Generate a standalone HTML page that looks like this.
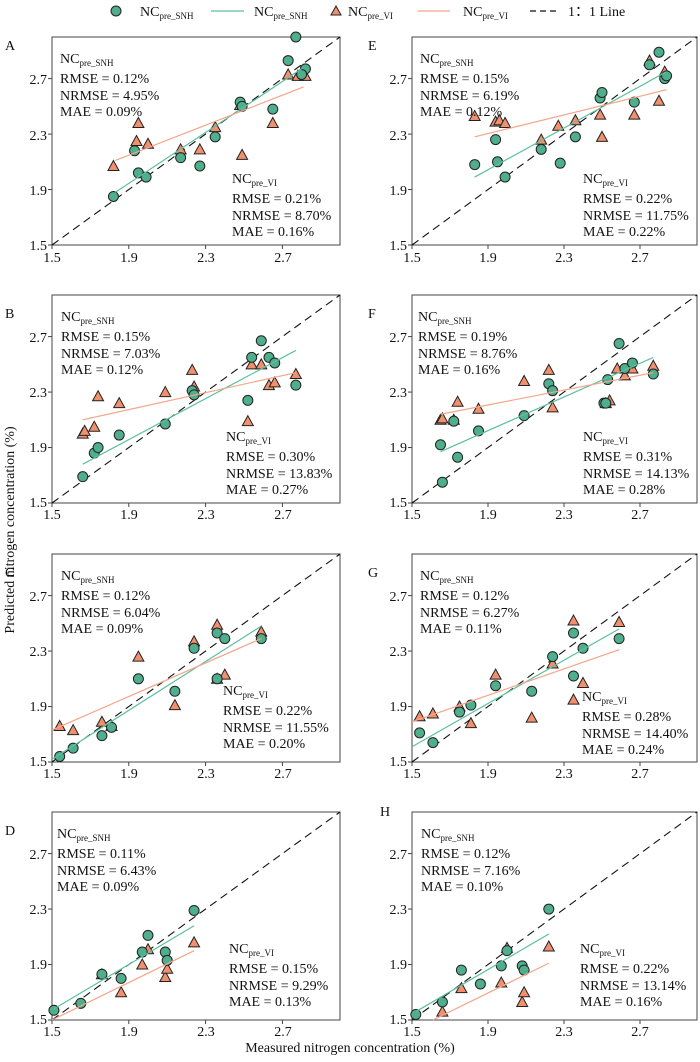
<!DOCTYPE html>
<html><head><meta charset="utf-8"><style>
html,body{margin:0;padding:0;background:#fff}
svg{display:block;font-family:"Liberation Serif",serif}
text{fill:#111}
</style></head><body>
<svg id="s" width="700" height="1062" xmlns="http://www.w3.org/2000/svg">
<!-- legend -->
<circle cx="116" cy="11" r="5" fill="#4fae8c" stroke="#222" stroke-width="1"/>
<text x="140" y="16" font-size="14">NC<tspan font-size="9" dy="3">pre_SNH</tspan></text>
<line x1="211" y1="11" x2="244" y2="11" stroke="#5cc0a0" stroke-width="1.2"/>
<text x="254" y="16" font-size="14">NC<tspan font-size="9" dy="3">pre_SNH</tspan></text>
<polygon points="336,6 341,15 331,15" fill="#f0906e" stroke="#222" stroke-width="1"/>
<text x="348" y="16" font-size="14">NC<tspan font-size="9" dy="3">pre_VI</tspan></text>
<line x1="418" y1="11" x2="450" y2="11" stroke="#f4a58a" stroke-width="1.2"/>
<text x="463" y="16" font-size="14">NC<tspan font-size="9" dy="3">pre_VI</tspan></text>
<line x1="530" y1="11" x2="558" y2="11" stroke="#111" stroke-width="1.2" stroke-dasharray="6,4"/>
<text x="568" y="16" font-size="14">1：1 Line</text>

<text x="350" y="1052" font-size="14" text-anchor="middle">Measured nitrogen concentration (%)</text>
<text transform="translate(14,530) rotate(-90)" font-size="14" text-anchor="middle">Predicted nitrogen concentration (%)</text>

<g id="panels"></g>

<!-- panel letters -->
<text x="5" y="50" font-size="14">A</text>
<text x="5" y="318" font-size="14">B</text>
<text x="5" y="577" font-size="14">C</text>
<text x="5" y="835" font-size="14">D</text>
<text x="368" y="50" font-size="14">E</text>
<text x="368" y="318" font-size="14">F</text>
<text x="368" y="577" font-size="14">G</text>
<text x="380" y="816" font-size="14">H</text>

<!-- stats text -->
<g font-size="14">
<!-- A -->
<text x="60" y="63">NC<tspan font-size="9" dy="3">pre_SNH</tspan></text>
<text x="60" y="83">RMSE = 0.12%</text><text x="60" y="100">NRMSE = 4.95%</text><text x="60" y="116">MAE = 0.09%</text>
<text x="232" y="183">NC<tspan font-size="9" dy="3">pre_VI</tspan></text>
<text x="232" y="203">RMSE = 0.21%</text><text x="232" y="220">NRMSE = 8.70%</text><text x="232" y="236">MAE = 0.16%</text>
<!-- B -->
<text x="61" y="321">NC<tspan font-size="9" dy="3">pre_SNH</tspan></text>
<text x="61" y="341">RMSE = 0.15%</text><text x="61" y="358">NRMSE = 7.03%</text><text x="61" y="374">MAE = 0.12%</text>
<text x="226" y="441">NC<tspan font-size="9" dy="3">pre_VI</tspan></text>
<text x="226" y="461">RMSE = 0.30%</text><text x="226" y="478">NRMSE = 13.83%</text><text x="226" y="494">MAE = 0.27%</text>
<!-- C -->
<text x="61" y="580">NC<tspan font-size="9" dy="3">pre_SNH</tspan></text>
<text x="61" y="600">RMSE = 0.12%</text><text x="61" y="617">NRMSE = 6.04%</text><text x="61" y="633">MAE = 0.09%</text>
<text x="223" y="695">NC<tspan font-size="9" dy="3">pre_VI</tspan></text>
<text x="223" y="715">RMSE = 0.22%</text><text x="223" y="732">NRMSE = 11.55%</text><text x="223" y="748">MAE = 0.20%</text>
<!-- D -->
<text x="57" y="838">NC<tspan font-size="9" dy="3">pre_SNH</tspan></text>
<text x="57" y="858">RMSE = 0.11%</text><text x="57" y="875">NRMSE = 6.43%</text><text x="57" y="891">MAE = 0.09%</text>
<text x="229" y="953">NC<tspan font-size="9" dy="3">pre_VI</tspan></text>
<text x="229" y="973">RMSE = 0.15%</text><text x="229" y="990">NRMSE = 9.29%</text><text x="229" y="1006">MAE = 0.13%</text>
<!-- E -->
<text x="420" y="63">NC<tspan font-size="9" dy="3">pre_SNH</tspan></text>
<text x="420" y="83">RMSE = 0.15%</text><text x="420" y="100">NRMSE = 6.19%</text><text x="420" y="116">MAE = 0.12%</text>
<text x="583" y="183">NC<tspan font-size="9" dy="3">pre_VI</tspan></text>
<text x="583" y="203">RMSE = 0.22%</text><text x="583" y="220">NRMSE = 11.75%</text><text x="583" y="236">MAE = 0.22%</text>
<!-- F -->
<text x="418" y="321">NC<tspan font-size="9" dy="3">pre_SNH</tspan></text>
<text x="418" y="341">RMSE = 0.19%</text><text x="418" y="358">NRMSE = 8.76%</text><text x="418" y="374">MAE = 0.16%</text>
<text x="583" y="441">NC<tspan font-size="9" dy="3">pre_VI</tspan></text>
<text x="583" y="461">RMSE = 0.31%</text><text x="583" y="478">NRMSE = 14.13%</text><text x="583" y="494">MAE = 0.28%</text>
<!-- G -->
<text x="420" y="580">NC<tspan font-size="9" dy="3">pre_SNH</tspan></text>
<text x="420" y="600">RMSE = 0.12%</text><text x="420" y="617">NRMSE = 6.27%</text><text x="420" y="633">MAE = 0.11%</text>
<text x="582" y="701">NC<tspan font-size="9" dy="3">pre_VI</tspan></text>
<text x="582" y="721">RMSE = 0.28%</text><text x="582" y="738">NRMSE = 14.40%</text><text x="582" y="754">MAE = 0.24%</text>
<!-- H -->
<text x="421" y="838">NC<tspan font-size="9" dy="3">pre_SNH</tspan></text>
<text x="421" y="858">RMSE = 0.12%</text><text x="421" y="875">NRMSE = 7.16%</text><text x="421" y="891">MAE = 0.10%</text>
<text x="580" y="953">NC<tspan font-size="9" dy="3">pre_VI</tspan></text>
<text x="580" y="973">RMSE = 0.22%</text><text x="580" y="990">NRMSE = 13.14%</text><text x="580" y="1006">MAE = 0.16%</text>
</g>

<!-- tick labels -->
<g font-size="14" text-anchor="end">
<text x="47" y="250">1.5</text><text x="47" y="195">1.9</text><text x="47" y="140">2.3</text><text x="47" y="84">2.7</text>
<text x="47" y="507">1.5</text><text x="47" y="452">1.9</text><text x="47" y="397">2.3</text><text x="47" y="342">2.7</text>
<text x="47" y="766">1.5</text><text x="47" y="711">1.9</text><text x="47" y="656">2.3</text><text x="47" y="601">2.7</text>
<text x="47" y="1024">1.5</text><text x="47" y="969">1.9</text><text x="47" y="914">2.3</text><text x="47" y="859">2.7</text>
<text x="407" y="250">1.5</text><text x="407" y="195">1.9</text><text x="407" y="140">2.3</text><text x="407" y="84">2.7</text>
<text x="407" y="507">1.5</text><text x="407" y="452">1.9</text><text x="407" y="397">2.3</text><text x="407" y="342">2.7</text>
<text x="407" y="766">1.5</text><text x="407" y="711">1.9</text><text x="407" y="656">2.3</text><text x="407" y="601">2.7</text>
<text x="407" y="1024">1.5</text><text x="407" y="969">1.9</text><text x="407" y="914">2.3</text><text x="407" y="859">2.7</text>
</g>
<g font-size="14" text-anchor="middle">
<text x="52" y="262">1.5</text><text x="129" y="262">1.9</text><text x="206" y="262">2.3</text><text x="283" y="262">2.7</text>
<text x="52" y="519">1.5</text><text x="129" y="519">1.9</text><text x="206" y="519">2.3</text><text x="283" y="519">2.7</text>
<text x="52" y="778">1.5</text><text x="129" y="778">1.9</text><text x="206" y="778">2.3</text><text x="283" y="778">2.7</text>
<text x="52" y="1036">1.5</text><text x="129" y="1036">1.9</text><text x="206" y="1036">2.3</text><text x="283" y="1036">2.7</text>
<text x="412" y="262">1.5</text><text x="488" y="262">1.9</text><text x="564" y="262">2.3</text><text x="640" y="262">2.7</text>
<text x="412" y="519">1.5</text><text x="488" y="519">1.9</text><text x="564" y="519">2.3</text><text x="640" y="519">2.7</text>
<text x="412" y="778">1.5</text><text x="488" y="778">1.9</text><text x="564" y="778">2.3</text><text x="640" y="778">2.7</text>
<text x="412" y="1036">1.5</text><text x="488" y="1036">1.9</text><text x="564" y="1036">2.3</text><text x="640" y="1036">2.7</text>
</g>
</svg>
<script>
var NS="http://www.w3.org/2000/svg",G=document.getElementById("panels");
function el(t,a){var e=document.createElementNS(NS,t);for(var k in a)e.setAttribute(k,a[k]);G.appendChild(e);return e;}
var P=[
{x:52,y:37,w:288,h:208,
c:[[1.82,1.85],[1.93,2.18],[1.95,2.02],[1.99,1.99],[2.17,2.13],[2.27,2.07],[2.35,2.28],[2.48,2.53],[2.49,2.50],[2.65,2.48],[2.73,2.83],[2.77,3.0],[2.82,2.77],[2.80,2.73]],
t:[[1.82,2.07],[1.94,2.25],[1.95,2.38],[2.00,2.23],[2.17,2.19],[2.27,2.19],[2.35,2.35],[2.48,2.51],[2.49,2.15],[2.65,2.38],[2.73,2.73],[2.78,2.72],[2.82,2.72]],
g:[1.83,1.88,2.81,2.78],o:[1.83,2.11,2.81,2.64]},
{x:52,y:295,w:288,h:208,
c:[[1.66,1.69],[1.72,1.86],[1.74,1.90],[1.85,1.99],[2.09,2.07],[2.23,2.31],[2.24,2.28],[2.52,2.24],[2.54,2.55],[2.59,2.67],[2.63,2.55],[2.66,2.51],[2.77,2.35]],
t:[[1.66,2.0],[1.67,2.02],[1.72,2.05],[1.74,2.27],[1.85,2.22],[2.09,2.30],[2.23,2.46],[2.24,2.34],[2.52,2.09],[2.54,2.50],[2.59,2.50],[2.63,2.35],[2.66,2.37],[2.77,2.43]],
g:[1.66,1.78,2.77,2.60],o:[1.66,2.10,2.77,2.44]},
{x:52,y:554,w:288,h:208,
c:[[1.54,1.54],[1.61,1.60],[1.76,1.69],[1.81,1.75],[1.95,2.10],[2.14,2.01],[2.24,2.32],[2.36,2.43],[2.40,2.39],[2.36,2.10],[2.59,2.39]],
t:[[1.54,1.76],[1.61,1.73],[1.76,1.79],[1.81,1.76],[1.95,2.26],[2.14,1.91],[2.24,2.37],[2.36,2.49],[2.40,2.13],[2.36,2.10],[2.59,2.44]],
g:[1.5,1.52,2.59,2.48],o:[1.5,1.73,2.59,2.39]},
{x:52,y:812,w:288,h:208,
c:[[1.51,1.57],[1.65,1.62],[1.76,1.83],[1.86,1.80],[1.97,1.99],[2.00,2.11],[2.09,1.99],[2.10,1.93],[2.24,2.29]],
t:[[1.76,1.83],[1.86,1.70],[1.97,1.90],[2.0,2.01],[2.09,1.81],[2.10,1.87],[2.24,2.06]],
g:[1.51,1.58,2.24,2.18],o:[1.5,1.5,2.24,2.0]},
{x:412,y:37,w:285,h:208,
c:[[1.83,2.08],[1.94,2.26],[1.95,2.10],[1.99,1.99],[2.18,2.19],[2.28,2.09],[2.36,2.28],[2.49,2.56],[2.50,2.60],[2.67,2.53],[2.75,2.80],[2.80,2.89],[2.83,2.70],[2.84,2.72]],
t:[[1.83,2.43],[1.94,2.39],[1.96,2.40],[1.99,2.38],[2.18,2.26],[2.27,2.36],[2.36,2.40],[2.49,2.44],[2.50,2.28],[2.67,2.44],[2.75,2.83],[2.80,2.54],[2.83,2.75]],
g:[1.83,1.99,2.84,2.75],o:[1.83,2.28,2.84,2.62]},
{x:412,y:295,w:285,h:208,
c:[[1.65,1.92],[1.66,1.65],[1.72,2.09],[1.74,1.83],[1.85,2.02],[2.09,2.13],[2.22,2.36],[2.24,2.31],[2.51,2.22],[2.52,2.22],[2.53,2.39],[2.59,2.65],[2.62,2.47],[2.66,2.51],[2.77,2.43]],
t:[[1.65,2.10],[1.66,2.11],[1.72,2.10],[1.74,2.23],[1.85,2.18],[2.09,2.38],[2.22,2.46],[2.24,2.19],[2.52,2.22],[2.54,2.24],[2.58,2.47],[2.62,2.42],[2.66,2.47],[2.77,2.49]],
g:[1.65,1.87,2.77,2.55],o:[1.65,2.14,2.77,2.44]},
{x:412,y:554,w:285,h:208,
c:[[1.54,1.71],[1.61,1.64],[1.75,1.86],[1.81,1.91],[1.94,2.05],[2.13,2.01],[2.24,2.26],[2.35,2.43],[2.40,2.32],[2.35,2.12],[2.59,2.39]],
t:[[1.54,1.83],[1.61,1.85],[1.75,1.90],[1.81,1.78],[1.94,2.13],[2.13,1.82],[2.24,2.21],[2.35,2.52],[2.40,2.07],[2.35,1.95],[2.59,2.51]],
g:[1.5,1.61,2.59,2.46],o:[1.5,1.79,2.59,2.31]},
{x:412,y:812,w:285,h:208,
c:[[1.52,1.54],[1.66,1.63],[1.76,1.86],[1.86,1.76],[1.97,1.89],[2.00,2.0],[2.08,1.89],[2.09,1.86],[2.22,2.30]],
t:[[1.66,1.56],[1.76,1.73],[1.97,1.77],[2.00,2.02],[2.08,1.63],[2.09,1.70],[2.22,2.03]],
g:[1.52,1.56,2.22,2.12],o:[1.61,1.5,2.22,1.91]}
];
P.forEach(function(p){
 function X(v){return p.x+(v-1.5)/1.5*p.w;}
 function Y(v){return p.y+p.h-(v-1.5)/1.5*p.h;}
 el("rect",{x:p.x,y:p.y,width:p.w,height:p.h,fill:"none",stroke:"#444","stroke-width":1});
 [1.5,1.9,2.3,2.7].forEach(function(v){
  el("line",{x1:X(v),y1:p.y+p.h,x2:X(v),y2:p.y+p.h+4,stroke:"#444"});
  el("line",{x1:p.x-4,y1:Y(v),x2:p.x,y2:Y(v),stroke:"#444"});
 });
 el("line",{x1:X(1.5),y1:Y(1.5),x2:X(3),y2:Y(3),stroke:"#111","stroke-width":1.1,"stroke-dasharray":"8,5"});
 p.t.forEach(function(d){var cx=X(d[0]),cy=Y(d[1]);
  el("polygon",{points:cx+","+(cy-5.5)+" "+(cx+5.5)+","+(cy+4.5)+" "+(cx-5.5)+","+(cy+4.5),fill:"#f0906e",stroke:"#222","stroke-width":1});});
 p.c.forEach(function(d){el("circle",{cx:X(d[0]),cy:Y(d[1]),r:5,fill:"#4fae8c",stroke:"#222","stroke-width":1});});
 el("line",{x1:X(p.g[0]),y1:Y(p.g[1]),x2:X(p.g[2]),y2:Y(p.g[3]),stroke:"#5cc0a0","stroke-width":1.2});
 el("line",{x1:X(p.o[0]),y1:Y(p.o[1]),x2:X(p.o[2]),y2:Y(p.o[3]),stroke:"#f4a58a","stroke-width":1.2});
});
</script>
</body></html>
